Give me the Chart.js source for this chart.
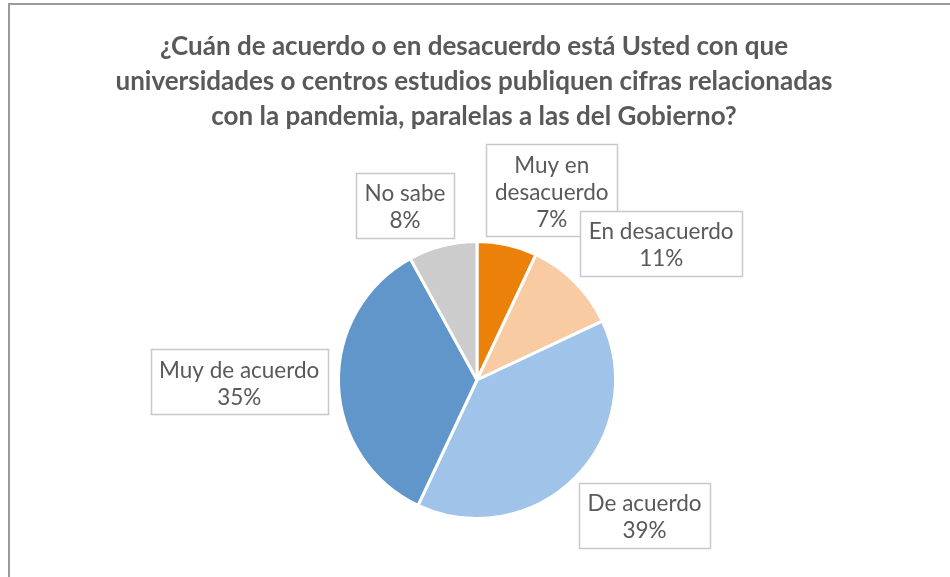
<!DOCTYPE html>
<html>
<head>
<meta charset="utf-8">
<script src="https://cdn.jsdelivr.net/npm/chart.js@4"></script>
<style>
    html, body { margin: 0; padding: 0; background: #fff; }
    #wrap { position: relative; width: 950px; height: 577px; }
</style>
</head>
<body>
<div id="wrap"><canvas id="pieChart" width="950" height="577"></canvas></div>
<script>
// Chart data
const categories = ['Muy en desacuerdo', 'En desacuerdo', 'De acuerdo', 'Muy de acuerdo', 'No sabe'];
const labelLines = [['Muy en', 'desacuerdo'], ['En desacuerdo'], ['De acuerdo'], ['Muy de acuerdo'], ['No sabe']];
const percentages = [7, 11, 39, 35, 8];
const sliceColors = ['#EC8109', '#F9CBA3', '#9FC3E9', '#6096CA', '#CCCCCC'];
const titleLines = [
    '¿Cuán de acuerdo o en desacuerdo está Usted con que',
    'universidades o centros estudios publiquen cifras relacionadas',
    'con la pandemia, paralelas a las del Gobierno?'
];

// Label box offsets from the pie centre, in radius units
const labelOffsets = [[0.54, -1.37], [1.33, -0.985], [1.21, 0.98], [-1.717, 0.014], [-0.52, -1.26]];

/**
 * Draw the outer frame (left and top edges only) and the title
 */
const framePlugin = {
    id: 'frame',
    beforeDraw(chart) {
        const ctx = chart.ctx;
        ctx.save();
        ctx.strokeStyle = '#9a9a9a';
        ctx.lineWidth = 2;
        ctx.beginPath();
        ctx.moveTo(9, 577);
        ctx.lineTo(9, 4);
        ctx.lineTo(950, 4);
        ctx.stroke();

        ctx.fillStyle = '#595959';
        ctx.font = 'bold 26px Lato, "Liberation Sans", sans-serif';
        ctx.textAlign = 'center';
        ctx.textBaseline = 'middle';
        titleLines.forEach((line, i) => {
            ctx.fillText(line, 474, 47 + i * 35);
        });
        ctx.restore();
    }
};

/**
 * Draw boxed data labels
 */
const boxLabelPlugin = {
    id: 'boxLabels',
    afterDatasetsDraw(chart) {
        const ctx = chart.ctx;
        const meta = chart.getDatasetMeta(0);
        ctx.save();
        ctx.font = '22.5px Lato, "Liberation Sans", sans-serif';
        ctx.textAlign = 'center';
        ctx.textBaseline = 'middle';
        meta.data.forEach((arc, i) => {
            const r = arc.outerRadius;
            const cx = arc.x + labelOffsets[i][0] * r;
            const cy = arc.y + labelOffsets[i][1] * r;
            const lines = labelLines[i].concat([percentages[i] + '%']);
            const lh = 27;
            let w = 0;
            lines.forEach(l => { w = Math.max(w, ctx.measureText(l).width); });
            const bw = w + 17;
            const bh = lines.length * lh + 11;
            ctx.fillStyle = '#ffffff';
            ctx.fillRect(cx - bw / 2, cy - bh / 2, bw, bh);
            ctx.strokeStyle = '#c8c8c8';
            ctx.lineWidth = 1.5;
            ctx.strokeRect(Math.round(cx - bw / 2) + 0.5, Math.round(cy - bh / 2) + 0.5, Math.round(bw), Math.round(bh));
            ctx.fillStyle = '#595959';
            lines.forEach((l, k) => {
                ctx.fillText(l, cx, cy - (lines.length - 1) * lh / 2 + k * lh + 2);
            });
        });
        ctx.restore();
    }
};

new Chart(document.getElementById('pieChart'), {
    type: 'pie',
    data: {
        labels: categories,
        datasets: [{
            data: percentages,
            backgroundColor: sliceColors,
            borderColor: '#ffffff',
            borderWidth: 3
        }]
    },
    options: {
        responsive: false,
        animation: false,
        layout: {
            padding: { top: 240, bottom: 57, left: 337, right: 333 }
        },
        plugins: {
            legend: { display: false },
            tooltip: { enabled: false },
            title: { display: false }
        }
    },
    plugins: [framePlugin, boxLabelPlugin]
});
</script>
</body>
</html>
